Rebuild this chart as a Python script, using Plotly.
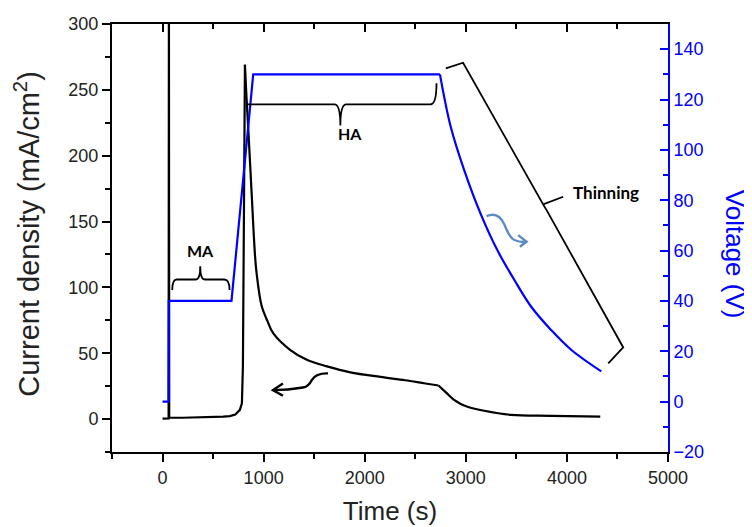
import plotly.graph_objects as go

# ---- data ----
# current density (mA/cm2): switch-on spike, MA plateau and rise to the HA peak
t_current_rise = [0, 55, 60, 63, 66, 200, 400, 600, 665, 720, 765, 785, 795, 800, 815]
current_rise = [0.3, 0.4, 0.5, 330, 1.0, 1.0, 1.3, 1.8, 2.3, 3.5, 7, 12, 40, 130, 269]
# decay during HA
t_current_decay = [815, 830, 847, 881, 914, 930, 980, 1040, 1096, 1261, 1427, 1626, 1857,
                   2155, 2400, 2600, 2730]
current_decay = [269, 245, 222, 172, 125, 111, 86, 74, 65, 52.6, 45, 40, 35.5,
                 32, 29.5, 27, 25.5]
# decay during thinning
t_current_thin = [2730, 2800, 2884, 2950, 3016, 3182, 3447, 3843, 4330]
current_thin = [25.5, 20.5, 14.5, 11.5, 9.4, 6.3, 3.2, 2.5, 1.8]

# voltage (V)
t_voltage_step = [0, 60, 62, 682, 897, 2744]
voltage_step = [0, 0, 40, 40, 130, 130]
t_voltage_thin = [2744, 2850, 2983, 3148, 3314, 3479, 3645, 3843, 4042, 4340]
voltage_thin = [130, 109.3, 92.1, 74.5, 60.0, 48.4, 37.8, 28.5, 20.6, 12]

x_ticks = [0, 1000, 2000, 3000, 4000, 5000]
y_left_ticks = [0, 50, 100, 150, 200, 250, 300]
y_right_ticks = [-20, 0, 20, 40, 60, 80, 100, 120, 140]

FONT = "Liberation Sans, Arial, sans-serif"
BLUE = "#0000ff"
BLACK_LINE = dict(color="black", width=2.2)
BLUE_LINE = dict(color=BLUE, width=2.2)

fig = go.Figure()
fig.add_trace(go.Scatter(x=t_current_rise, y=current_rise, mode="lines",
                         line=BLACK_LINE, showlegend=False, yaxis="y"))
fig.add_trace(go.Scatter(x=t_current_decay, y=current_decay, mode="lines",
                         line=dict(shape="spline", **BLACK_LINE), showlegend=False, yaxis="y"))
fig.add_trace(go.Scatter(x=t_current_thin, y=current_thin, mode="lines",
                         line=dict(shape="spline", **BLACK_LINE), showlegend=False, yaxis="y"))
fig.add_trace(go.Scatter(x=t_voltage_step, y=voltage_step, mode="lines",
                         line=BLUE_LINE, showlegend=False, yaxis="y2"))
fig.add_trace(go.Scatter(x=t_voltage_thin, y=voltage_thin, mode="lines",
                         line=dict(shape="spline", **BLUE_LINE), showlegend=False, yaxis="y2"))
# invisible trace to activate the top mirror axis
fig.add_trace(go.Scatter(x=[None], y=[None], xaxis="x2", yaxis="y", showlegend=False,
                         hoverinfo="skip"))

# ---- braces and arrows (decorations, in axis units) ----
def path(d, color="black", width=1.8):
    return dict(type="path", path=d, xref="x", yref="y",
                line=dict(color=color, width=width), layer="above")

shapes = [
    # MA brace
    path("M 96,98 Q 96,106 140,106 L 330,106 Q 373,106 373,116 Q 373,106 416,106 "
         "L 610,106 Q 663,106 663,98"),
    # HA brace
    path("M 829,239 L 1700,239 Q 1759,239 1759,223 Q 1759,239 1818,239 "
         "L 2650,239 Q 2710,239 2710,255"),
    # Thinning brace
    path("M 2802,266.3 L 2973,270.6 L 3765,163 L 3963,168.8 "
         "M 3765,163 L 3799,158.7 L 4557,54.4 L 4409,42.3"),
    # black curly arrow
    path("M 1637,34.7 Q 1520,35 1480,30 Q 1440,24 1389,24 Q 1240,22 1092,22", width=2.4),
    path("M 1191,27.1 L 1092,22 L 1191,17.7", width=2.4),
    # blue curly arrow
    path("M 3205,154.1 Q 3320,158 3380,148 Q 3430,138 3480,136 Q 3540,134 3601,134.6",
         color="#5b8cc4", width=2.4),
    path("M 3518,139.7 L 3601,134.6 L 3535,130.8", color="#5b8cc4", width=2.4),
]

ann_font = dict(family="Lato, sans-serif", size=16, color="black", weight="bold")
annotations = [
    dict(x=373, y=128, text="MA", showarrow=False, xref="x", yref="y", font=ann_font),
    dict(x=1858, y=217, text="HA", showarrow=False, xref="x", yref="y", font=ann_font),
    dict(x=4040, y=172, text="Thinning", showarrow=False, xref="x", yref="y",
         xanchor="left", font=dict(ann_font, size=17)),
    # axis titles
    dict(text="Current density (mA/cm<sup>2</sup>)", textangle=-90, showarrow=False,
         xref="paper", yref="paper", x=0, y=0.51, xanchor="center", yanchor="middle",
         xshift=-85, font=dict(family=FONT, size=29, color="#222222")),
    dict(text="Voltage (V)", textangle=90, showarrow=False,
         xref="paper", yref="paper", x=1, y=0.463, xanchor="center", yanchor="middle",
         xshift=67, font=dict(family=FONT, size=26, color=BLUE)),
]

axis_common = dict(showgrid=False, zeroline=False, showline=True, linewidth=2,
                   ticklen=8, tickwidth=2)

# the page adds an 8 px body margin, so margins are reduced by 8 px on the top/left
fig.update_layout(
    width=752, height=527,
    margin=dict(l=104, r=92, t=16, b=83),
    paper_bgcolor="white", plot_bgcolor="white",
    font=dict(family=FONT, size=18, color="#222222"),
    shapes=shapes, annotations=annotations,
    xaxis=dict(range=[-500, 5000], tickvals=x_ticks, ticks="outside",
               linecolor="black", tickcolor="black",
               minor=dict(dtick=500, ticks="outside", ticklen=5, tickwidth=2, tickcolor="black"),
               title=dict(text="Time (s)", font=dict(size=26, color="#222222"), standoff=15),
               automargin=False, **axis_common),
    xaxis2=dict(range=[-500, 5000], tickvals=x_ticks, ticks="inside", overlaying="x",
                side="top", anchor="y", showticklabels=False,
                linecolor="black", tickcolor="black",
                minor=dict(dtick=500, ticks="inside", ticklen=5, tickwidth=2, tickcolor="black"),
                **axis_common),
    yaxis=dict(range=[-25, 300], tickvals=y_left_ticks, ticks="outside",
               linecolor="black", tickcolor="black",
               minor=dict(dtick=25, ticks="outside", ticklen=5, tickwidth=2, tickcolor="black"),
               automargin=False, **axis_common),
    yaxis2=dict(range=[-20, 150], tickvals=y_right_ticks, ticks="inside", overlaying="y",
                side="right", anchor="x",
                linecolor=BLUE, tickcolor=BLUE, tickfont=dict(color=BLUE),
                minor=dict(dtick=10, ticks="inside", ticklen=5, tickwidth=2, tickcolor=BLUE),
                automargin=False, **axis_common),
)

fig.write_html("out.html")
